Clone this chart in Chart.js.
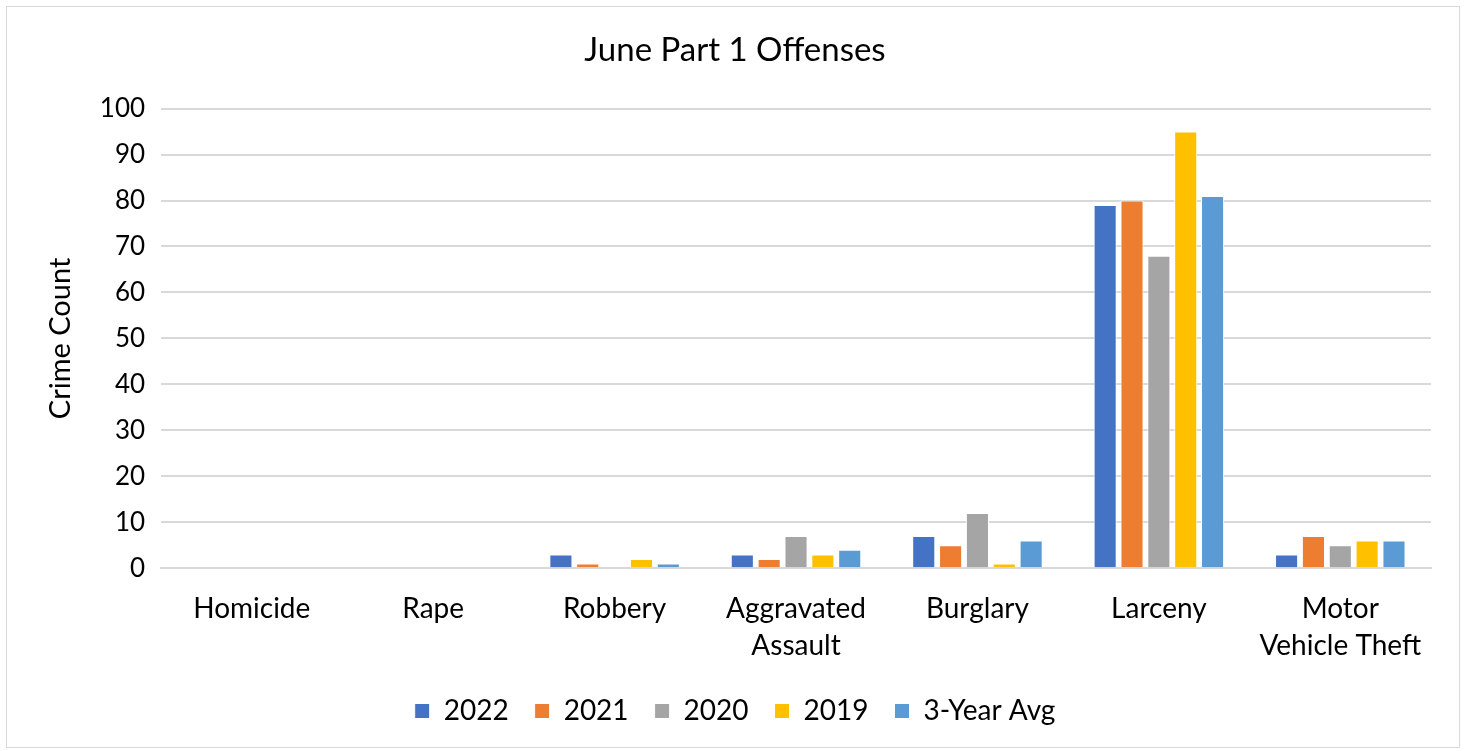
<!DOCTYPE html>
<html>
<head>
<meta charset="utf-8">
<script src="https://cdn.jsdelivr.net/npm/chart.js@4.4.1/dist/chart.umd.min.js"></script>
<style>
  body { margin: 0; background: #fff; }
  #frame { position: absolute; left: 6px; top: 6px; width: 1452px; height: 740px; border: 1px solid #d9d9d9; }
  canvas { display: block; }
</style>
</head>
<body>
<div id="frame"><canvas id="crimeChart" width="1452" height="740"></canvas></div>
<script>
// June Part 1 offenses by year
const categories = ['Homicide', 'Rape', 'Robbery', ['Aggravated', 'Assault'], 'Burglary', 'Larceny', ['Motor', 'Vehicle Theft']];
const seriesNames = ['2022', '2021', '2020', '2019', '3-Year Avg'];
const colors = ['#4472C4', '#ED7D31', '#A5A5A5', '#FFC000', '#5B9BD5'];

const y2022 = [0, 0, 3, 3, 7, 79, 3];
const y2021 = [0, 0, 1, 2, 5, 80, 7];
const y2020 = [0, 0, 0, 7, 12, 68, 5];
const y2019 = [0, 0, 2, 3, 1, 95, 6];
const avg3 = [0, 0, 1, 4, 6, 81, 6];

const values = [y2022, y2021, y2020, y2019, avg3];
const fontFamily = 'Lato, "Open Sans", sans-serif';

const ctx = document.getElementById('crimeChart').getContext('2d');
window.crimeChart = new Chart(ctx, {
  type: 'bar',
  data: {
    labels: categories,
    datasets: seriesNames.map((name, i) => ({
      label: name,
      data: values[i],
      backgroundColor: colors[i],
      borderColor: '#ffffff',
      borderWidth: 1,
      categoryPercentage: 0.74,
      barPercentage: 0.86
    }))
  },
  options: {
    responsive: false,
    animation: false,
    layout: { padding: { left: 32, right: 28, top: 14, bottom: 12 } },
    plugins: {
      title: {
        display: true,
        text: 'June Part 1 Offenses',
        color: '#000',
        font: { family: fontFamily, size: 33, weight: 'normal' },
        padding: { top: 10, bottom: 38 }
      },
      legend: {
        position: 'bottom',
        labels: {
          color: '#000',
          font: { family: fontFamily, size: 28, lineHeight: 1 },
          boxWidth: 15,
          boxHeight: 15,
          padding: 26
        }
      },
      tooltip: { enabled: false }
    },
    scales: {
      x: {
        grid: { display: false, drawTicks: false },
        border: { color: '#d9d9d9', width: 2 },
        ticks: { color: '#000', font: { family: fontFamily, size: 28, lineHeight: 1.3 }, padding: 23, maxRotation: 0, autoSkip: false },
        // tighten the gap between the category labels and the legend
        afterFit: function (scale) { scale.height -= 16; }
      },
      y: {
        min: 0,
        max: 100,
        grid: { color: '#d9d9d9', lineWidth: 2, drawTicks: false },
        border: { display: false },
        ticks: { stepSize: 10, color: '#000', font: { family: fontFamily, size: 26 }, padding: 16 },
        title: {
          display: true,
          text: 'Crime Count',
          color: '#000',
          font: { family: fontFamily, size: 29 },
          padding: { bottom: 6 }
        }
      }
    }
  }
});
</script>
</body>
</html>
